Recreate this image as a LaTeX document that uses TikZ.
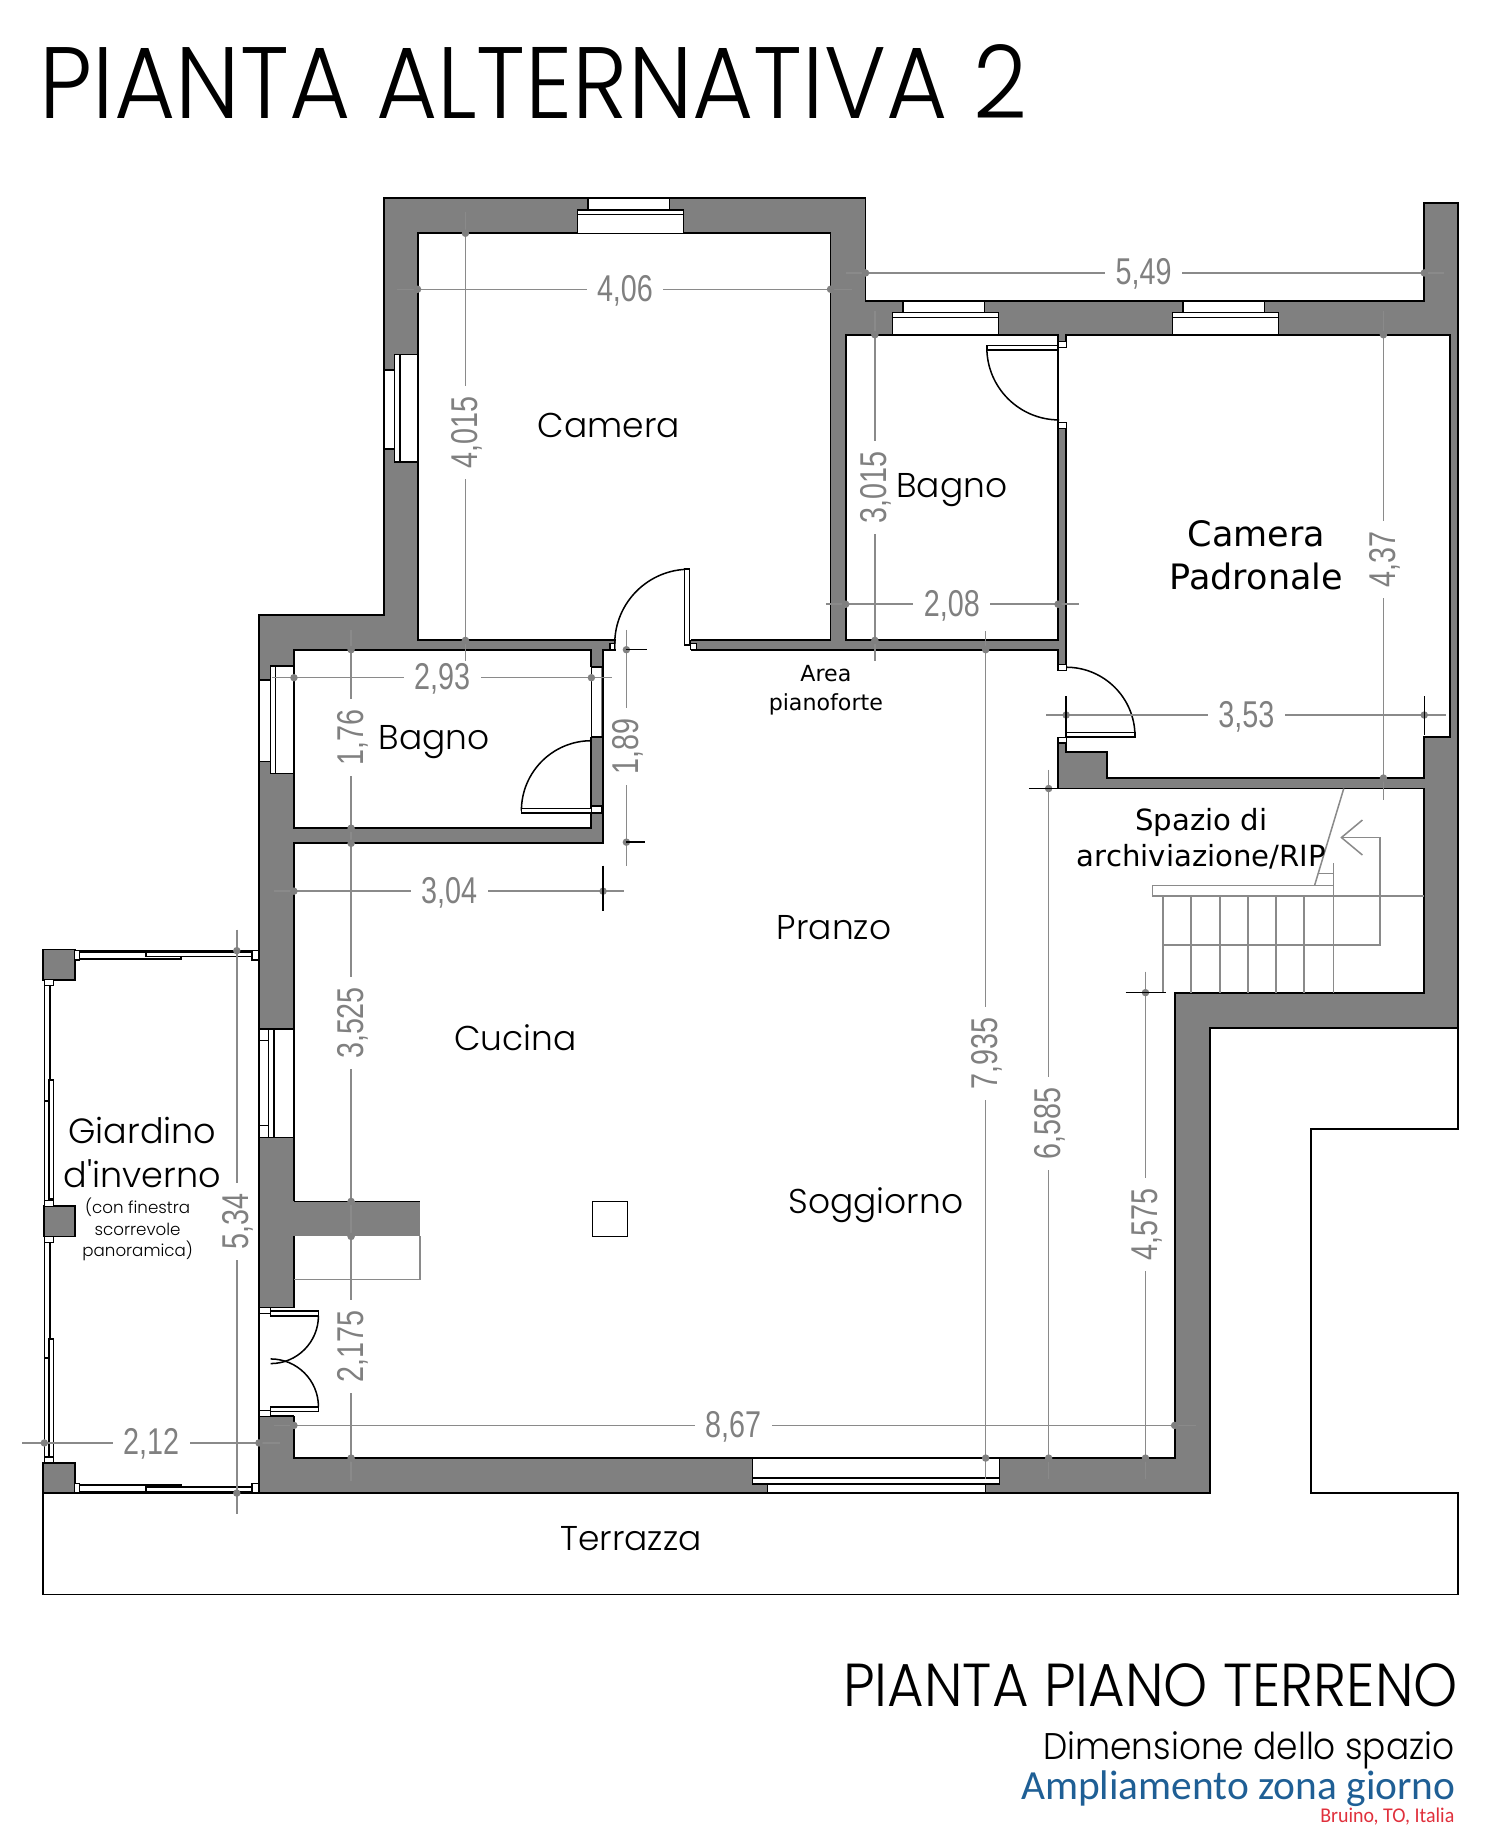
\documentclass[tikz,border=0pt]{standalone}
\usepackage{fontspec}
\setmainfont{Poppins}
\newfontfamily\titlefont[FakeStretch=0.926]{Poppins Light}
\newfontfamily\roomfont{Poppins Light}
\newfontfamily\labelfont{DejaVu Sans}
\newfontfamily\dimfont[FakeStretch=0.77]{Liberation Sans}
\newfontfamily\bluefont{Carlito}
\newfontfamily\redfont[FakeStretch=0.95]{Carlito}
\definecolor{wallgray}{HTML}{808080}
\definecolor{linegray}{HTML}{8A8A8A}
\definecolor{subblue}{HTML}{1F5F95}
\definecolor{subred}{HTML}{E0303C}
\usetikzlibrary{arrows.meta,positioning}

\begin{document}
\begin{tikzpicture}[
    x=1pt, y=-1pt,
    line join=miter,
    % wall and room styles
    wall/.style={draw=black, fill=wallgray, line width=1.6pt},
    room/.style={draw=black, fill=white, line width=1.6pt},
    glass/.style={draw=black, fill=white, line width=1.3pt},
    jamb/.style={draw=black, fill=white, line width=1pt},
    leaf/.style={draw=black, line width=1.3pt},
    opening/.style={fill=white, draw=none},
    % dimension styles
    dimline/.style={draw=linegray, line width=1.3pt},
    dimlabel/.style={fill=white, text=wallgray, inner xsep=9pt, inner ysep=2pt, text height=20.5pt, text depth=0pt, font=\dimfont\fontsize{32}{32}\selectfont},
    dimtick/.style={draw=black, line width=1.3pt},
    % text styles
    roomname/.style={align=center, font=\roomfont\fontsize{29.5}{36}\selectfont},
    notename/.style={align=center, font=\labelfont\fontsize{30}{37}\selectfont},
    smallname/.style={align=center, font=\labelfont\fontsize{19}{25}\selectfont}
]
    \useasboundingbox (0,0) rectangle (1286,1568);

    % --- 1. Terrace ---
    \draw[draw=black, line width=1.4pt] (1250,881) -- (1250,968) -- (1124,968) -- (1124,1280)
        -- (1250,1280) -- (1250,1367) -- (37,1367) -- (37,1280);

    % --- 2. Walls ---
    \draw[wall] (329,170) -- (742,170) -- (742,258) -- (1221,258) -- (1221,174) -- (1250,174)
        -- (1250,881) -- (1037,881) -- (1037,1280) -- (222,1280) -- (222,527) -- (329,527) -- cycle;

    % --- 3. Rooms ---
    \draw[room] (358,200) rectangle (712,549);
    \draw[room] (725,287) rectangle (907,549);
    \draw[room] (252,557) rectangle (507,710);
    \draw[room] (914,287) -- (1243,287) -- (1243,632) -- (1221,632) -- (1221,667) -- (949,667)
        -- (949,645) -- (914,645) -- cycle;
    \draw[room] (252,723) -- (517,723) -- (517,557) -- (907,557) -- (907,676) -- (1221,676)
        -- (1221,851) -- (1007,851) -- (1007,1250) -- (252,1250) -- cycle;
    % muro a T e pilastro
    \draw[wall, draw=none] (250,1030) rectangle (360,1060);
    \draw[black, line width=1.3pt] (252,1030) -- (360,1030);
    \draw[dimline] (252,1097) -- (360,1097) -- (360,1060);
    \draw[draw=black, line width=1.1pt] (508,1030) rectangle (538,1060);

    % --- 4. Windows ---
    \foreach \wx/\wy/\wh in {495/170/30,765/258/29,1005/258/29} {
        \draw[glass] (\wx+9,\wy) rectangle (\wx+79,\wy+10);
        \draw[glass] (\wx,\wy+10) rectangle (\wx+91,\wy+14);
        \draw[glass] (\wx,\wy+14) rectangle (\wx+91,\wy+\wh);
    }
    \draw[glass] (329,317) rectangle (338,385);
    \draw[glass] (338,304) rectangle (343,396);
    \draw[glass] (343,304) rectangle (358,396);
    \draw[glass] (222,583) rectangle (232,653);
    \draw[glass] (232,571) rectangle (236,663);
    \draw[glass] (236,571) rectangle (252,663);
    \draw[glass] (222,882) rectangle (230,975);
    \draw[glass] (222,892) rectangle (230,965);
    \draw[glass] (230,882) rectangle (235,975);
    \draw[glass] (235,882) rectangle (252,975);
    \draw[glass] (658,1272) rectangle (845,1280);
    \draw[glass] (645,1267) rectangle (857,1272);
    \draw[glass] (645,1250) rectangle (857,1267);

    % --- 5. Doors ---
    % Camera
    \fill[opening] (528,547) rectangle (592,559);
    \draw[leaf] (527,549) -- (527,557) -- (517,557);
    \draw[leaf] (527,552) arc[start angle=180, end angle=270, radius=64];
    \draw[glass] (587,488) rectangle (591,553);
    \draw[leaf] (592,557) -- (592,549) -- (596,549);
    \draw[jamb] (523,552) rectangle (527,557);
    \draw[jamb] (592,552) rectangle (597,557);
    % Bagno, accanto alla camera
    \fill[opening] (505,572) rectangle (515.5,632);
    \draw[leaf] (507,557) -- (507,572) (507,572) rectangle (517,632);
    \draw[leaf] (447,695) arc[start angle=180, end angle=270, radius=60];
    \draw[glass] (447,693) rectangle (507,697);
    \draw[jamb] (507,691) rectangle (516,697);
    % Bagno padronale
    \fill[opening] (908,298) rectangle (915.5,362);
    \draw[leaf] (907,287) -- (907,362);
    \draw[leaf] (846,298) arc[start angle=180, end angle=90, radius=62];
    \draw[glass] (846,296) rectangle (907,300);
    \draw[jamb] (907,293) rectangle (914,298);
    \draw[jamb] (907,362) rectangle (914,367);
    % Camera Padronale
    \fill[opening] (905.5,575) rectangle (915.5,632);
    \draw[leaf] (914,572) arc[start angle=-90, end angle=0, radius=59];
    \draw[glass] (914,628) rectangle (973,632);
    \draw[jamb] (907,570) rectangle (914,575);
    \draw[jamb] (907,632) rectangle (914,637);
    % ingresso dal giardino
    \fill[opening] (223,1121) rectangle (253,1214);
    \draw[leaf] (222,1121) -- (252,1121);
    \draw[leaf] (222,1214) -- (252,1214);
    \draw[jamb] (222,1121) rectangle (232,1126);
    \draw[jamb] (222,1209) rectangle (232,1214);
    \draw[glass] (232,1124) rectangle (273,1128);
    \draw[glass] (232,1206) rectangle (273,1210);
    \draw[leaf] (273,1128) arc[start angle=0, end angle=90, radius=41];
    \draw[leaf] (273,1206) arc[start angle=0, end angle=-90, radius=41];

    % --- 6. Giardino d'inverno ---
    \draw[wall] (37,814) rectangle (64,840);
    \draw[wall] (38,1034) rectangle (64,1060);
    \draw[wall] (37,1254) rectangle (64,1280);
    \draw[line width=1.4pt] (64,815) -- (222,815) (64,1280) -- (222,1280);
    \draw[line width=1.4pt] (38,840) -- (38,1254);
    \draw[glass] (66,816) rectangle (155,822);
    \draw[glass] (125,816) rectangle (218,820);
    \draw[glass] (66,1273) rectangle (155,1279);
    \draw[glass] (125,1275) rectangle (218,1279);
    \foreach \jy in {815,1272} {
        \draw[jamb] (64,\jy) rectangle (68,\jy+8);
        \draw[jamb] (216,\jy) rectangle (222,\jy+8);
    }
    \foreach \jy in {840,1029,1060,1249} {
        \draw[jamb] (38,\jy) rectangle (46,\jy+5);
    }
    \foreach \py/\qy in {845/944, 1065/1164} {
        \draw[glass] (38,\py) rectangle (43,\qy);
    }
    \foreach \py/\qy in {926/1028, 1148/1249} {
        \draw[glass] (42,\py) rectangle (46,\qy);
    }

    % --- 7. Stairs ---
    \draw[dimline] (988,759) rectangle (1143,768);
    \foreach \sx in {997,1021,1046,1070,1094,1118,1143} {
        \draw[dimline] (\sx,768) -- (\sx,851);
    }
    \draw[dimline] (1143,768) -- (1221,768);
    \draw[dimline] (997,810) -- (1183,810) -- (1183,718) -- (1150,718);
    \draw[dimline] (1168,703) -- (1150,718) -- (1168,733);
    \draw[dimline] (1152,676) -- (1127,759);
    \draw[dimline] (1143,740) -- (1143,759) (1130,749) -- (1143,749);

    % --- 8. Dimensions ---
    \draw[dimline] (725,234) -- node[dimlabel, pos=0.498] (d549) {5,49} (1238,234);
    \draw[dimline] (340,248) -- node[dimlabel, pos=0.502] (d406) {4,06} (730,248);
    \draw[dimline] (708,518) -- node[dimlabel, pos=0.498] (d208) {2,08} (925,518);
    \draw[dimline] (233,581) -- node[dimlabel, pos=0.5] (d293) {2,93} (525,581);
    \draw[dimline] (897,613) -- node[dimlabel, pos=0.50] (d353) {3,53} (1240,613);
    \draw[dimline] (235,764) -- node[dimlabel, pos=0.5] (d304) {3,04} (535,764);
    \draw[dimline] (235,1222) -- node[dimlabel, pos=0.498] (d867) {8,67} (1025,1222);
    \draw[dimline] (19,1237) -- node[dimlabel, pos=0.5] (d212) {2,12} (240,1237);
    \draw[dimline] (399,182) -- node[dimlabel, rotate=90, pos=0.49] (d4015) {4,015} (399,567);
    \draw[dimline] (301,540) -- (301,1270);
    \node[dimlabel, rotate=90] (d176) at (301,632) {1,76};
    \node[dimlabel, rotate=90] (d3525) at (301,877) {3,525};
    \node[dimlabel, rotate=90] (d2175) at (301,1154) {2,175};
    \draw[dimline] (537,540) -- node[dimlabel, rotate=90, pos=0.495] (d189) {1,89} (537,742);
    \draw[dimline] (750,267) -- node[dimlabel, rotate=90, pos=0.503] (d3015) {3,015} (750,567);
    \draw[dimline] (1186,267) -- node[dimlabel, rotate=90, pos=0.508] (d437) {4,37} (1186,686);
    \draw[dimline] (845,541) -- node[dimlabel, rotate=90, pos=0.498] (d7935) {7,935} (845,1268);
    \draw[dimline] (899,660) -- node[dimlabel, rotate=90, pos=0.498] (d6585) {6,585} (899,1268);
    \draw[dimline] (982,833) -- node[dimlabel, rotate=90, pos=0.498] (d4575) {4,575} (982,1268);
    \draw[dimline] (203,797) -- node[dimlabel, rotate=90, pos=0.5] (d534) {5,34} (203,1298);
    % punti di misura
    \foreach \px/\py in {742/234,1221/234,358/248,712/248,725/518,907/518,252/581,507/581,
        914/613,1221/613,252/764,517/764,252/1222,1007/1222,38/1237,222/1237,399/200,399/549,
        301/557,301/710,301/723,301/1030,301/1060,301/1250,537/557,537/722,750/287,750/549,
        1186/287,1186/667,845/557,845/1250,899/676,899/1250,982/851,982/1250,203/815,203/1280} {
        \fill[wallgray] (\px,\py) circle[radius=3.2];
    }
    % tacche nere
    \draw[dimtick] (914,597) -- (914,628) (1221,597) -- (1221,630);
    \draw[dimtick] (517,742) -- (517,781);
    \draw[dimtick] (537,557) -- (555,557) (537,722) -- (553,722);
    \draw[dimtick] (882,676) -- (907,676);
    \draw[dimtick] (965,851) -- (1000,851);

    % --- 9. Room names ---
    \node[roomname] (camera) at (522,365) {Camera};
    \node[roomname] (bagno_a) at (816,420) {Bagno};
    \node[roomname] (bagno_b) at (372,636) {Bagno};
    \node[roomname] (pranzo) at (715,795) {Pranzo};
    \node[roomname] (cucina) at (442,890) {Cucina};
    \node[roomname] (soggiorno) at (751,1033) {Soggiorno};
    \node[roomname] (terrazza) at (541,1319) {Terrazza};
    \node[roomname, font=\roomfont\fontsize{30}{37}\selectfont] (giardino) at (122,988) {Giardino\\d'inverno};
    \node[align=center, font=\roomfont\fontsize{14.3}{18.5}\selectfont] (giardino_nota) at (118,1054) {(con finestra\\scorrevole\\panoramica)};
    \node[notename] (padronale) at (1077,476) {Camera\\Padronale};
    \node[smallname] (piano) at (708,592) {Area\\pianoforte};
    \node[smallname, font=\labelfont\fontsize{25}{31}\selectfont] (archivio) at (1030,719) {Spazio di\\archiviazione/RIP};

    % --- 10. Titles ---
    \node[anchor=base west, inner sep=0pt, font=\titlefont\fontsize{87}{87}\selectfont] (titolo) at (34,102) {PIANTA ALTERNATIVA 2};
    \node[anchor=base east, inner sep=0pt, font=\titlefont\fontsize{52}{52}\selectfont] (sottotitolo) at (1250,1463) {PIANTA PIANO TERRENO};
    \node[anchor=base east, inner sep=0pt, font=\titlefont\fontsize{31.8}{32}\selectfont] (spazio) at (1247,1508) {Dimensione dello spazio};
    \node[anchor=base east, inner sep=0pt, text=subblue, font=\bluefont\fontsize{35.5}{36}\selectfont] (zona) at (1248,1543) {Ampliamento zona giorno};
    \node[anchor=base east, inner sep=0pt, text=subred, font=\redfont\fontsize{18}{18}\selectfont] (luogo) at (1247,1562) {Bruino, TO, Italia};
\end{tikzpicture}
\end{document}
